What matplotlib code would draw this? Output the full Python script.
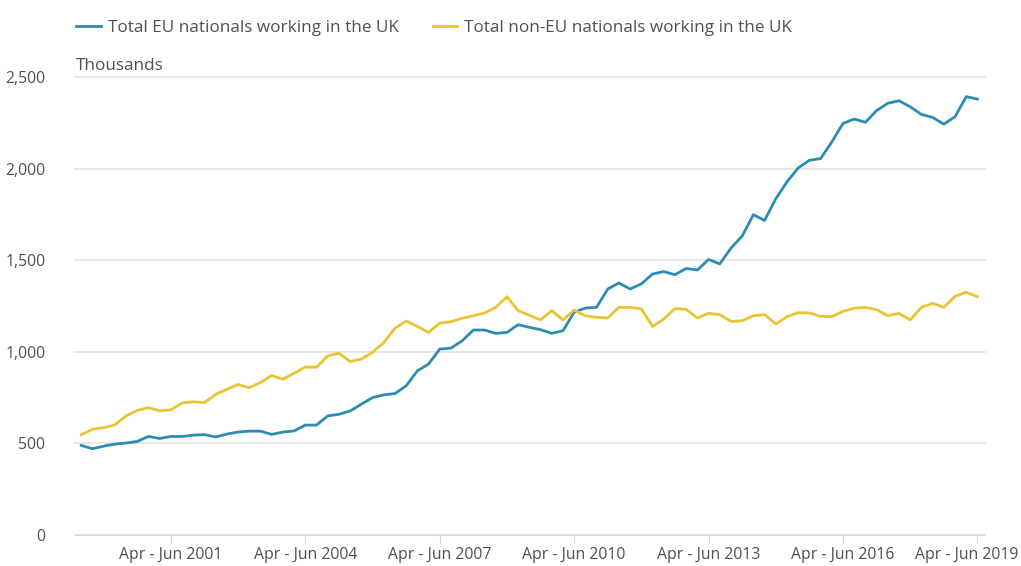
import matplotlib.pyplot as plt
import numpy as np

# quarterly data, Apr-Jun 1999 to Apr-Jun 2019 (thousands)
eu_nationals = [489, 471, 485, 496, 502, 511, 538, 527, 538, 538,
                545, 548, 535, 551, 562, 567, 567, 549, 562, 568,
                600, 600, 650, 659, 677, 714, 750, 765, 772, 814,
                896, 933, 1015, 1020, 1060, 1119, 1119, 1101, 1106, 1148,
                1134, 1121, 1101, 1115, 1216, 1239, 1243, 1343, 1376, 1343,
                1371, 1425, 1438, 1421, 1455, 1447, 1504, 1480, 1566, 1632,
                1749, 1717, 1836, 1928, 2004, 2046, 2055, 2146, 2247, 2271,
                2253, 2317, 2357, 2371, 2338, 2296, 2280, 2243, 2284, 2393,
                2380]
non_eu_nationals = [547, 577, 586, 601, 650, 680, 695, 678, 683, 721,
                    727, 723, 768, 795, 822, 804, 832, 871, 850, 883,
                    917, 916, 978, 993, 947, 960, 997, 1050, 1128, 1168,
                    1139, 1106, 1157, 1164, 1183, 1197, 1212, 1243, 1301, 1225,
                    1200, 1174, 1225, 1174, 1228, 1197, 1188, 1185, 1243, 1243,
                    1234, 1139, 1179, 1236, 1232, 1185, 1210, 1203, 1166, 1170,
                    1197, 1203, 1152, 1192, 1214, 1212, 1194, 1192, 1221, 1238,
                    1243, 1230, 1197, 1210, 1175, 1243, 1265, 1243, 1303, 1325,
                    1301]
tick_labels = ["Apr - Jun 2001", "Apr - Jun 2004", "Apr - Jun 2007", "Apr - Jun 2010",
               "Apr - Jun 2013", "Apr - Jun 2016", "Apr - Jun 2019"]
tick_index = [8, 20, 32, 44, 56, 68, 80]

plt.rcParams['font.family'] = ['Open Sans', 'DejaVu Sans']

blue = '#2b8cb4'
yellow = '#e8c434'
grid_col = '#e2e2e2'
text_col = '#505050'

fig = plt.figure(figsize=(10.21, 5.66), dpi=100)
ax = fig.add_axes([0.073, 0.0548, 0.892, 0.809])

x = np.arange(len(eu_nationals))
ax.plot(x, eu_nationals, color=blue, lw=2.0, label='Total EU nationals working in the UK')
ax.plot(x, non_eu_nationals, color=yellow, lw=2.0, label='Total non-EU nationals working in the UK')

ax.set_xlim(-0.6, 80.7)
ax.set_ylim(0, 2500)
ax.set_yticks([0, 500, 1000, 1500, 2000, 2500])
ax.set_yticklabels(['0', '500', '1,000', '1,500', '2,000', '2,500'])
for v in [500, 1000, 1500, 2000, 2500]:
    ax.axhline(v, color=grid_col, lw=1.2, zorder=0, clip_on=False)

ax.set_xticks(tick_index)
# last label is drawn separately, pulled in so it stays inside the figure
ax.set_xticklabels(tick_labels[:-1] + [''])
ax.annotate(tick_labels[-1], xy=(tick_index[-1], 0), xycoords=('data', 'axes fraction'),
            xytext=(-7.5, -9), textcoords='offset points', ha='center', va='top',
            fontsize=11.3, color=text_col, annotation_clip=False)

for s in ['top', 'right', 'left']:
    ax.spines[s].set_visible(False)
ax.spines['bottom'].set_color('#cfd3dc')
ax.spines['bottom'].set_linewidth(1.2)

ax.tick_params(axis='y', length=0, pad=21, labelsize=11.3, labelcolor=text_col)
ax.tick_params(axis='x', length=6, width=0.8, color='#cfd3dc', pad=3,
               labelsize=11.3, labelcolor=text_col)

fig.text(0.0745, 0.883, 'Thousands', fontsize=12.3, color=text_col, va='center')

fig.legend(loc='center left', bbox_to_anchor=(0.066, 0.95), ncol=2, frameon=False,
           fontsize=12.3, handlelength=1.45, handletextpad=0.4, columnspacing=2.0,
           borderpad=0, labelcolor=text_col)

fig.savefig('out.png', dpi=100)
